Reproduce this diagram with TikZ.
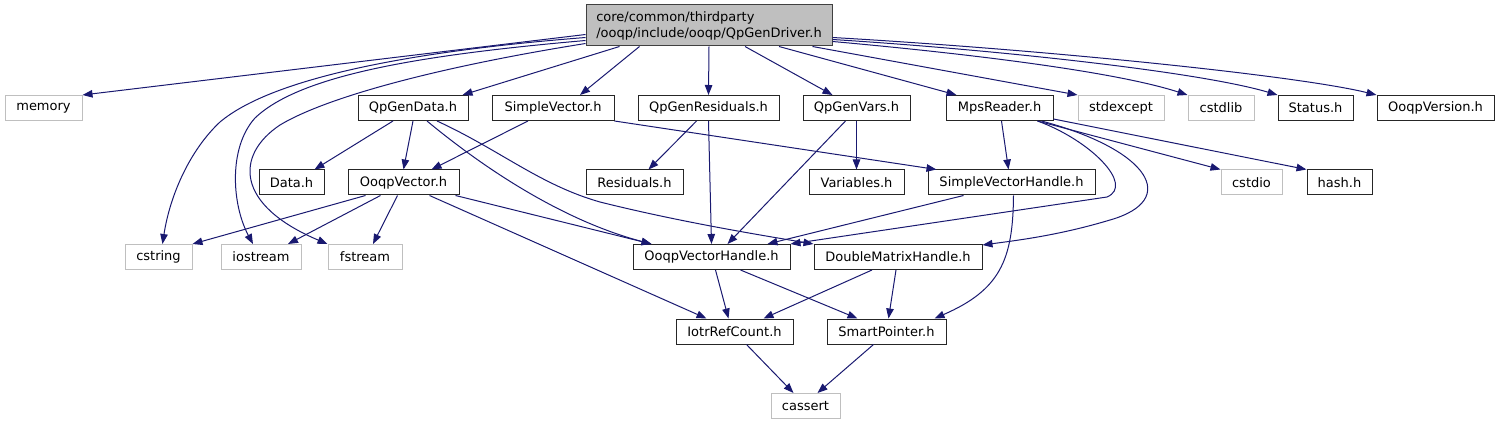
\documentclass[tikz,border=0pt]{standalone}
\usepackage{fontspec}
\setmainfont{DejaVu Sans}
\usepackage{xcolor}
\usepackage{tikz}
\usetikzlibrary{arrows.meta,calc}

\definecolor{depblue}{HTML}{191970}
\definecolor{extgray}{HTML}{BFBFBF}
\definecolor{rootgray}{HTML}{BFBFBF}
\definecolor{rootline}{HTML}{404040}
\newcommand{\incfont}{\fontsize{13}{16}\selectfont}

\begin{document}
\begin{tikzpicture}[x=1pt,y=-1pt,
  incbox/.style={draw=black!85,line width=1pt,inner sep=0pt,minimum height=25pt,font=\incfont},
  extbox/.style={incbox,draw=extgray},
  rootbox/.style={draw=rootline,fill=rootgray,line width=1pt,inner sep=0pt,minimum height=41pt,align=left,font=\incfont},
  dep/.style={draw=depblue,line width=1pt,-{Triangle[length=10pt,width=7.5pt]}}]
  \useasboundingbox (0,0) rectangle (1500,425);

  \node[rootbox,minimum width=246pt] (root) at (709,25.5) {core/common/thirdparty\\/ooqp/include/ooqp/QpGenDriver.h};

  % first row
  \node[extbox,minimum width=77pt] (memory) at (43.5,108) {memory};
  \node[incbox,minimum width=110pt] (qpgendata) at (413,108) {QpGenData.h};
  \node[incbox,minimum width=122pt] (simplevector) at (553,108) {SimpleVector.h};
  \node[incbox,minimum width=141pt] (qpgenres) at (708.5,108) {QpGenResiduals.h};
  \node[incbox,minimum width=107pt] (qpgenvars) at (856.5,108) {QpGenVars.h};
  \node[incbox,minimum width=107pt] (mpsreader) at (999.5,108) {MpsReader.h};
  \node[extbox,minimum width=86pt] (stdexcept) at (1121,108) {stdexcept};
  \node[extbox,minimum width=66pt] (cstdlib) at (1221,108) {cstdlib};
  \node[incbox,minimum width=75pt] (status) at (1315.5,108) {Status.h};
  \node[incbox,minimum width=117pt] (ooqpversion) at (1435.5,108) {OoqpVersion.h};

  % second row
  \node[incbox,minimum width=65pt] (data) at (291.5,182.5) {Data.h};
  \node[incbox,minimum width=111pt] (ooqpvector) at (403.5,182.5) {OoqpVector.h};
  \node[incbox,minimum width=97pt] (residuals) at (634.5,182.5) {Residuals.h};
  \node[incbox,minimum width=95pt] (variables) at (856.5,182.5) {Variables.h};
  \node[incbox,minimum width=167pt] (svhandle) at (1011.5,182.5) {SimpleVectorHandle.h};
  \node[extbox,minimum width=61pt] (cstdio) at (1251.5,182.5) {cstdio};
  \node[incbox,minimum width=65pt] (hash) at (1339.5,182.5) {hash.h};

  % third row
  \node[extbox,minimum width=67pt] (cstring) at (158.5,257) {cstring};
  \node[extbox,minimum width=80pt] (iostream) at (261,257) {iostream};
  \node[extbox,minimum width=74pt] (fstream) at (365,257) {fstream};
  \node[incbox,minimum width=157pt] (ovhandle) at (711.5,257) {OoqpVectorHandle.h};
  \node[incbox,minimum width=168pt] (dmhandle) at (898,257) {DoubleMatrixHandle.h};

  % last rows
  \node[incbox,minimum width=117pt] (refcount) at (734.5,331.5) {IotrRefCount.h};
  \node[incbox,minimum width=119pt] (smartptr) at (886.5,331.5) {SmartPointer.h};
  \node[extbox,minimum width=69pt] (cassert) at (805.5,406) {cassert};

  % includes of QpGenDriver.h
  \draw[dep] ([yshift=-9pt]root.west) -- (memory.north east);
  \draw[dep] ([yshift=-12pt]root.west) .. controls (400,52) and (270,80) .. (220,122)
    .. controls (190,150) and (170,195) .. ([xshift=4pt]cstring.north);
  \draw[dep] ([yshift=-15pt]root.west) .. controls (420,55) and (300,75) .. (255,118)
    .. controls (228,148) and (232,205) .. ([xshift=-8pt]iostream.north);
  \draw[dep] ([yshift=-18pt]root.west) .. controls (450,65) and (330,95) .. (280,125)
    .. controls (235,155) and (235,205) .. (fstream.north west);
  \draw[dep] ([xshift=34pt]root.south west) -- ([xshift=-6pt]qpgendata.north east);
  \draw[dep] ([xshift=54pt]root.south west) -- ([xshift=27pt]simplevector.north);
  \draw[dep] (root.south) -- (qpgenres.north);
  \draw[dep] ([xshift=36pt]root.south) -- ([xshift=-24pt]qpgenvars.north);
  \draw[dep] ([xshift=70pt]root.south) -- ([xshift=-43pt]mpsreader.north);
  \draw[dep] ([xshift=-20pt]root.south east) -- (stdexcept.north west);
  \draw[dep] ([yshift=-16pt]root.east) .. controls (950,52) and (1110,70) .. (cstdlib.north west);
  \draw[dep] ([yshift=-14pt]root.east) .. controls (1000,50) and (1200,72) .. (status.north west);
  \draw[dep] ([yshift=-12pt]root.east) .. controls (1050,50) and (1300,76) .. (ooqpversion.north west);

  % QpGenData.h
  \draw[dep] ([xshift=-20pt]qpgendata.south) -- ([xshift=-10pt]data.north east);
  \draw[dep] (qpgendata.south) -- (ooqpvector.north);
  \draw[dep] ([xshift=14pt]qpgendata.south) .. controls (480,165) and (560,220) .. ([xshift=19pt]ovhandle.north west);
  \draw[dep] ([xshift=24pt]qpgendata.south) .. controls (500,150) and (540,185) .. (600,202)
    .. controls (680,222) and (760,235) .. (dmhandle.north west);

  % SimpleVector.h, QpGenResiduals.h, QpGenVars.h
  \draw[dep] ([xshift=-25pt]simplevector.south) -- ([xshift=28pt]ooqpvector.north);
  \draw[dep] (simplevector.south east) -- ([xshift=9pt]svhandle.north west);
  \draw[dep] ([xshift=-12pt]qpgenres.south) -- ([xshift=14pt]residuals.north);
  \draw[dep] (qpgenres.south) -- (ovhandle.north);
  \draw[dep] (qpgenvars.south) -- (variables.north);
  \draw[dep] ([xshift=-11pt]qpgenvars.south) -- ([xshift=16pt]ovhandle.north);

  % MpsReader.h
  \draw[dep] ([xshift=2pt]mpsreader.south) -- ([xshift=-3pt]svhandle.north);
  \draw[dep] ([xshift=38pt]mpsreader.south) .. controls (1090,140) and (1135,185) .. (1107,197) -- (ovhandle.north east);
  \draw[dep] ([xshift=42pt]mpsreader.south) .. controls (1150,150) and (1180,200) .. (1110,220)
    .. controls (1060,235) and (1020,240) .. ([yshift=12pt]dmhandle.east);
  \draw[dep] ([xshift=-16pt]mpsreader.south east) -- (cstdio.north west);
  \draw[dep] ([yshift=2pt]mpsreader.south east) -- (hash.north west);

  % SimpleVectorHandle.h, OoqpVector.h
  \draw[dep] ([xshift=-48pt]svhandle.south) -- ([xshift=56pt]ovhandle.north);
  \draw[dep] ([xshift=2pt]svhandle.south) .. controls (1013,260) and (1000,290) .. ([xshift=-12pt]smartptr.north east);
  \draw[dep] ([xshift=-38pt]ooqpvector.south) -- (cstring.north east);
  \draw[dep] ([xshift=-23pt]ooqpvector.south) -- ([xshift=27pt]iostream.north);
  \draw[dep] ([xshift=-6pt]ooqpvector.south) -- ([xshift=8pt]fstream.north);
  \draw[dep] ([xshift=-4pt]ooqpvector.south east) -- ([xshift=19pt]ovhandle.north west);
  \draw[dep] ([xshift=26pt]ooqpvector.south) -- ([xshift=-28pt]refcount.north);

  % handles and pointers
  \draw[dep] ([xshift=4pt]ovhandle.south) -- ([xshift=-6pt]refcount.north);
  \draw[dep] ([xshift=29pt]ovhandle.south) -- ([xshift=-29pt]smartptr.north);
  \draw[dep] ([xshift=-26pt]dmhandle.south) -- ([xshift=29pt]refcount.north);
  \draw[dep] ([xshift=-2pt]dmhandle.south) -- ([xshift=2pt]smartptr.north);
  \draw[dep] ([xshift=12pt]refcount.south) -- ([xshift=-12pt]cassert.north);
  \draw[dep] ([xshift=-13pt]smartptr.south) -- ([xshift=12pt]cassert.north);
\end{tikzpicture}
\end{document}
